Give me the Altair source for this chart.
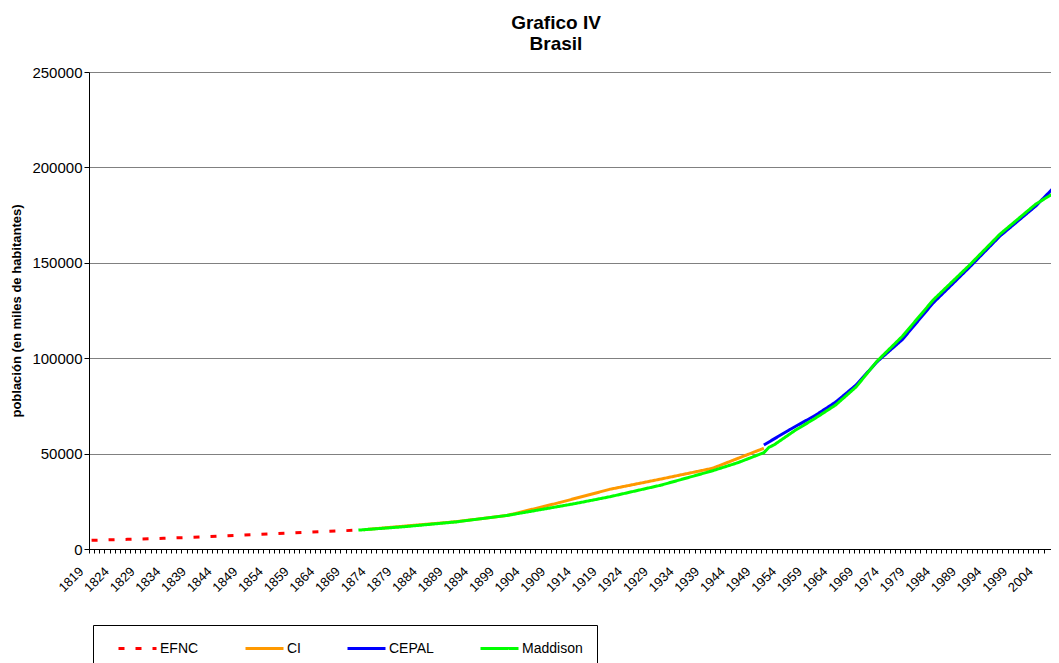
import altair as alt
import pandas as pd

# Category axis: one category per year (labels every 5 years)
years = list(range(1819, 2006))

# EFNC (dashed red)
efnc_years = [1819, 1826, 1833, 1840, 1847, 1854, 1861, 1868, 1870]
efnc_vals = [4550, 5050, 5600, 6250, 7100, 7950, 8750, 9550, 9800]

# CI (orange)
ci_years = [1872, 1880, 1890, 1900, 1910, 1920, 1930, 1940, 1950]
ci_vals = [10100, 12000, 14300, 17600, 24200, 31300, 36700, 42300, 52800]

# CEPAL (blue)
cepal_years = [1950, 1955, 1960, 1964, 1968, 1972, 1977, 1983, 1990, 1996, 2003, 2007]
cepal_vals = [54500, 62500, 70000, 77000, 86000, 98000, 109800, 129000, 147500, 164000, 179800, 190800]

# Maddison (green)
maddison_years = [1871, 1880, 1890, 1900, 1906, 1913, 1920, 1930, 1940, 1945, 1950, 1951,
                  1952, 1956, 1960, 1964, 1968, 1972, 1977, 1983, 1990, 1996, 2003, 2007]
maddison_vals = [9900, 11700, 14200, 17600, 20400, 23700, 27400, 33500, 41000, 45300, 50500, 53300,
                 54600, 62000, 68500, 75500, 85000, 98300, 111500, 130500, 148600, 165000, 180800, 187300]

series_names = ["EFNC", "CI", "CEPAL", "Maddison"]
series_colors = ["#FF0000", "#FF9900", "#0000FF", "#00FF00"]
y_ticks = [0, 50000, 100000, 150000, 200000, 250000]

rows = []
for name, ys, vs in [("EFNC", efnc_years, efnc_vals), ("CI", ci_years, ci_vals),
                     ("CEPAL", cepal_years, cepal_vals), ("Maddison", maddison_years, maddison_vals)]:
    for yr, v in zip(ys, vs):
        rows.append({"year": yr, "value": v, "serie": name})
df = pd.DataFrame(rows)

FONT = "Liberation Sans"
W, H = 962, 477
step = 5.132
x_domain = [years[0] - 0.5, years[0] - 0.5 + W / step]

chart = alt.Chart(df).mark_line(strokeWidth=3, clip=True).encode(
    x=alt.X("year:Q",
            scale=alt.Scale(domain=x_domain, nice=False, zero=False),
            axis=alt.Axis(title=None, values=years,
                          labelExpr="(datum.value - 1819) % 5 == 0 ? format(datum.value, 'd') : ''",
                          labelAngle=315, labelAlign="right", labelBaseline="middle",
                          labelOverlap=False, labelFlush=False, labelBound=False,
                          labelFontSize=13, labelFont=FONT, labelColor="black",
                          labelPadding=16, labelOffset=-8,
                          tickOffset=-step / 2, tickSize=4, tickColor="black",
                          domainColor="black", grid=False)),
    y=alt.Y("value:Q",
            scale=alt.Scale(domain=[0, 250000], nice=False),
            axis=alt.Axis(title="población (en miles de habitantes)", values=y_ticks, format="d",
                          titleFont=FONT, titleFontSize=13, titleFontWeight="bold", titleColor="black",
                          titlePadding=8,
                          labelFont=FONT, labelFontSize=15, labelColor="black", labelPadding=2,
                          tickSize=5, tickColor="black", domainColor="black",
                          grid=True, gridColor="#808080", gridWidth=1)),
    color=alt.Color("serie:N",
                    scale=alt.Scale(domain=series_names, range=series_colors),
                    legend=alt.Legend(title=None, orient="none", legendX=4, legendY=553,
                                      direction="horizontal", columns=4, gridAlign="none",
                                      columnPadding=35, labelOffset=13, labelFont=FONT,
                                      labelFontSize=14, labelColor="black",
                                      symbolType="M-2.375,0H2.375", symbolSize=256,
                                      symbolOffset=21, symbolStrokeWidth=3,
                                      padding=14, fillColor="white", strokeColor="black")),
    strokeDash=alt.StrokeDash("serie:N",
                              scale=alt.Scale(domain=series_names,
                                              range=[[6, 11], [1, 0], [1, 0], [1, 0]]),
                              legend=alt.Legend(title=None)),
).properties(
    width=W, height=H,
    title=alt.TitleParams(text=["Grafico IV", "Brasil"], font=FONT, fontSize=19, fontWeight="bold",
                          color="black", anchor="middle", dx=-14, offset=11, lineHeight=21),
    autosize=alt.AutoSizeParams(type="none"),
    padding={"left": 81, "top": 64, "right": 0, "bottom": 114},
).configure_view(stroke=None).configure(background="white")

chart.save("out.html", embed_options={"renderer": "svg", "actions": False})
